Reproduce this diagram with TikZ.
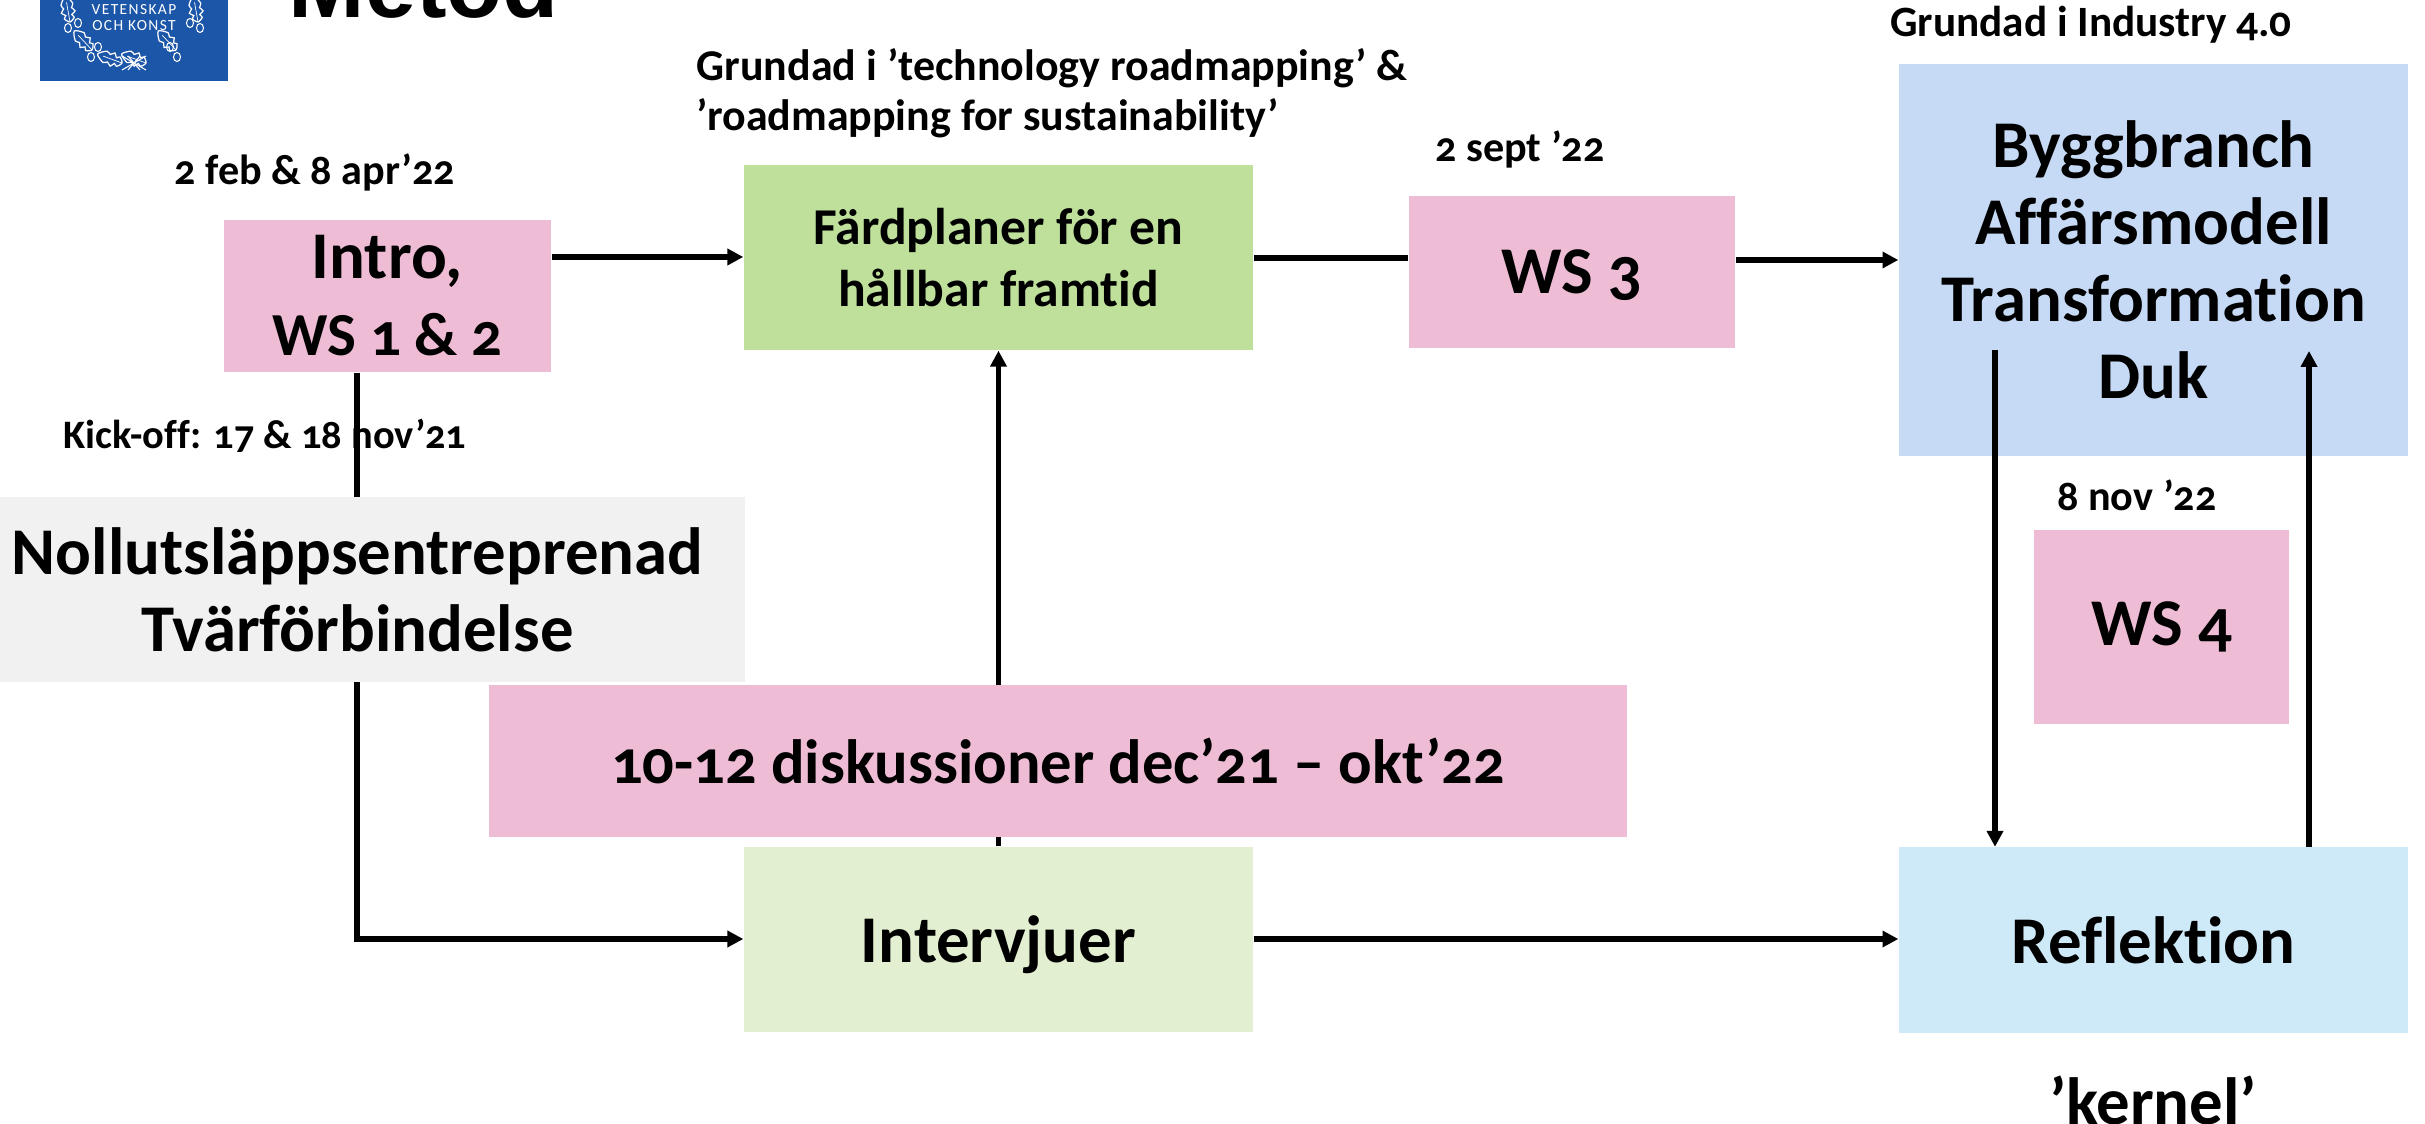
\documentclass[tikz,border=0pt]{standalone}
\usepackage{fontspec}
\setmainfont{Carlito}[Numbers=OldStyle,Ligatures=NoCommon]
\newfontfamily\titlefont{Liberation Sans}
\usetikzlibrary{backgrounds,arrows.meta}
\definecolor{pinkfill}{HTML}{EFBCD6}
\definecolor{greenfill}{HTML}{BFE09B}
\definecolor{palegreen}{HTML}{E2EFD0}
\definecolor{bluefill}{HTML}{C6DAF5}
\definecolor{skyfill}{HTML}{CEE9F7}
\definecolor{greyfill}{HTML}{F1F1F1}
\definecolor{logoblue}{HTML}{1C56A8}
\tikzset{
	boxnode/.style={minimum width=#1, inner sep=0pt, align=center, font=\bfseries, text=black},
	bigtext/.style={font=\fontsize{19}{21.9}\selectfont\bfseries},
	datenode/.style={inner sep=0pt, align=left, font=\fontsize{12}{13.5}\selectfont\bfseries},
	link/.style={line width=1.5pt, -{Triangle[length=4.5pt,width=4.5pt]}},
	plainlink/.style={line width=1.5pt},
	logoleaf/.pic={
		\draw[white, line width=0.35pt] plot [smooth cycle] coordinates {(0,0) (.04,.05) (.07,.03) (.10,.07) (.14,.04) (.18,.06) (.26,0) (.18,-.06) (.14,-.04) (.10,-.07) (.07,-.03) (.04,-.05)};
		\draw[white, line width=0.2pt] (0,0) -- (.2,0);
	},
}
\begin{document}
\begin{tikzpicture}
	\useasboundingbox (0,0) rectangle (24.25,-11.24);
	% boxes
	\node[boxnode=3.27cm, fill=pinkfill, minimum height=1.52cm, bigtext] (intro) at (3.875,-2.96) {Intro,\\{\fontsize{17.4}{21.9}\selectfont WS 1 \& 2}};
	\node[boxnode=5.09cm, fill=greenfill, minimum height=1.85cm, font=\fontsize{14.7}{17.4}\selectfont\bfseries] (fard) at (9.985,-2.575) {Färdplaner för en\\hållbar framtid};
	\node[boxnode=3.26cm, fill=pinkfill, minimum height=1.52cm, bigtext, text height=15.6pt, text depth=3.5pt] (wsthree) at (15.72,-2.72) {WS 3};
	\node[boxnode=5.09cm, fill=bluefill, minimum height=3.92cm, bigtext] (bygg) at (21.535,-2.6) {Byggbranch\\Affärsmodell\\Transformation\\Duk};
	\node[boxnode=7.45cm, fill=greyfill, minimum height=1.85cm, bigtext] (noll) at (3.725,-5.895) {Nollutsläppsentreprenad\hspace*{0.3cm}\\Tvärförbindelse\hspace*{0.3cm}};
	\node[boxnode=2.55cm, fill=pinkfill, minimum height=1.94cm, bigtext, text height=13.9pt, text depth=3.5pt] (wsfour) at (21.615,-6.27) {WS 4};
	\node[boxnode=11.38cm, fill=pinkfill, minimum height=1.52cm, font=\fontsize{17.8}{21}\selectfont\bfseries] (disk) at (10.58,-7.61) {10-12 diskussioner dec’21 – okt’22};
	\node[boxnode=5.09cm, fill=palegreen, minimum height=1.85cm, bigtext, text height=16.5pt, text depth=3.6pt] (interv) at (9.985,-9.395) {Intervjuer};
	\node[boxnode=5.09cm, fill=skyfill, minimum height=1.85cm, bigtext] (refl) at (21.535,-9.4) {Reflektion};
	% date labels
	\node[datenode] (datefeb) at (3.15,-1.72) {2 feb \& 8 apr’22};
	\node[datenode, font=\fontsize{11.5}{13}\selectfont\bfseries] (kick) at (2.65,-4.36) {Kick-off: 17 \& 18 nov’21};
	\node[datenode, anchor=north west, font=\fontsize{12.5}{14.1}\selectfont\bfseries] (grund) at (6.96,-0.48) {Grundad i ’technology roadmapping’ \&\\’roadmapping for sustainability’};
	\node[datenode] (datesep) at (15.2,-1.49) {2 sept ’22};
	\node[datenode, font=\fontsize{12.3}{14}\selectfont\bfseries] (indu) at (20.91,-0.25) {Grundad i Industry 4.0};
	\node[datenode] (datenov) at (21.37,-4.95) {8 nov ’22};
	\node[bigtext, inner sep=0pt] (kern) at (21.53,-11.0) {’kernel’};
	% logo and title
	\begin{scope}
		\clip (0,0) rectangle (24.25,-11.24);
		\node[fill=logoblue, minimum width=1.88cm, minimum height=1.2cm, inner sep=0pt] (logo) at (1.34,-0.21) {};
		\node[inner sep=0pt, text=white, align=center, font=\fontsize{4.4}{4.3}\selectfont\addfontfeature{LetterSpace=9}] (logotext) at (1.34,-0.175) {VETENSKAP\\OCH KONST};
		% wreath, mirrored about the middle of the logo
		\foreach \side in {1,-1} {
			\begin{scope}[shift={(1.34,0)}, xscale=\side]
				\pic[rotate=160] at (-0.12,-0.63) {logoleaf};
				\pic[rotate=133] at (-0.42,-0.50) {logoleaf};
				\pic[rotate=100] at (-0.64,-0.22) {logoleaf};
				\foreach \ax/\ay in {-0.56/-0.23, -0.66/-0.28, -0.36/-0.47, -0.43/-0.57}
					\draw[white, line width=0.3pt] (\ax,\ay) ellipse [x radius=0.035, y radius=0.045];
				\draw[white, line width=0.3pt] (-0.12,-0.70) -- (0.12,-0.56);
				\draw[white, line width=0.3pt] (-0.06,-0.70) -- (0.06,-0.56);
			\end{scope}
		}
		\node[anchor=base west, inner sep=0pt, font=\titlefont\fontsize{26.1}{27}\selectfont\bfseries] (title) at (2.88,-0.18) {Metod};
	\end{scope}
	% free ends of the arrows
	\coordinate (bendpt) at (3.57,-9.39);
	\coordinate (downtop) at (19.95,-3.50);
	\coordinate (uptop) at (23.09,-3.51);
	% arrows
	\begin{scope}[on background layer]
		\draw[link] (intro.south -| bendpt) -- (bendpt) -- (interv.west |- bendpt);
		\draw[link] (interv.north) -- (fard.south);
	\end{scope}
	\draw[link] (intro.east |- 0,-2.57) -- (fard.west |- 0,-2.57);
	\draw[plainlink] (fard.east |- 0,-2.58) -- (wsthree.west |- 0,-2.58);
	\draw[link] (wsthree.east |- 0,-2.6) -- (bygg.west |- 0,-2.6);
	\draw[link] (interv.east |- 0,-9.39) -- (refl.west |- 0,-9.39);
	\draw[link] (downtop) -- (downtop |- refl.north);
	\draw[link] (uptop |- refl.north) -- (uptop);
\end{tikzpicture}
\end{document}
